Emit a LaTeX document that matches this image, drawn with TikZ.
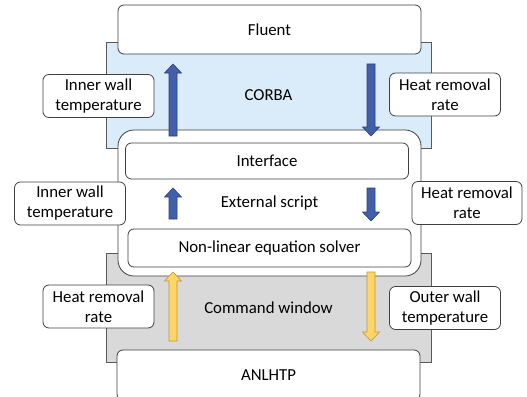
\documentclass[tikz,border=0pt]{standalone}
\usepackage{fontspec}
\setmainfont{Carlito}
\usetikzlibrary{calc}

\definecolor{corbablue}{RGB}{218,235,249}
\definecolor{cmdgray}{RGB}{217,217,217}
\definecolor{arrowblue}{RGB}{65,95,170}
\definecolor{arrowblueline}{RGB}{45,65,125}
\definecolor{arrowyellow}{RGB}{255,214,102}
\definecolor{arrowyellowline}{RGB}{190,150,60}

\tikzset{
  region/.style={draw=black!65, line width=0.8pt, inner sep=0pt},
  box/.style={draw=black!75, fill=white, rounded corners=6pt, line width=0.8pt, inner sep=0pt},
  tag/.style={box, minimum width=111pt, minimum height=43pt, align=center},
  blockblue/.style={fill=arrowblue, draw=arrowblueline, line width=0.6pt},
  blockyellow/.style={fill=arrowyellow, draw=arrowyellowline, line width=0.6pt}
}

% block arrow: style, tail, tip
\newcommand{\blockarrow}[3]{%
  \path ($(#3)!9pt!(#2)$) coordinate (head);
  \draw[#1] ($(#2)!4pt!90:(#3)$) -- ($(head)!4pt!90:(#3)$) -- ($(head)!8.5pt!90:(#3)$)
    -- (#3) -- ($(head)!8.5pt!-90:(#3)$) -- ($(head)!4pt!-90:(#3)$) -- ($(#2)!4pt!-90:(#3)$) -- cycle;}

\begin{document}
\begin{tikzpicture}[x=1pt, y=-1pt, font=\fontsize{16.8}{20}\selectfont]
  \useasboundingbox (0,0) rectangle (527,396);
  \clip (0,0) rectangle (527,396);
  % Regions
  \node[region, fill=corbablue, minimum width=325pt, minimum height=106pt] (corba) at (268.5,95) {CORBA};
  \node[region, fill=cmdgray, minimum width=325pt, minimum height=109pt] (cmd) at (268.5,307.5) {Command window};
  % Programs
  \node[box, minimum width=303pt, minimum height=49pt] (fluent) at (269.5,29.5) {Fluent};
  \node[box, rounded corners=16pt, minimum width=303pt, minimum height=146pt] (ext) at (269.5,203) {External script};
  \node[box, minimum width=283pt, minimum height=36pt] (iface) at (267,161) {Interface};
  \node[box, minimum width=283pt, minimum height=38pt] (solver) at (269.5,248) {Non-linear equation solver};
  \node[box, minimum width=303pt, minimum height=50pt] (anl) at (268.5,375) {ANLHTP};
  % Exchanged values
  \node[tag] (tl) at (98.5,96) {Inner wall\\temperature};
  \node[tag] (tr) at (445,94.5) {Heat removal\\rate};
  \node[tag] (ml) at (70,203.5) {Inner wall\\temperature};
  \node[tag, minimum width=110pt] (mr) at (467,203) {Heat removal\\rate};
  \node[tag] (bl) at (98.5,306.5) {Heat removal\\rate};
  \node[tag] (br) at (445,308) {Outer wall\\temperature};
  % Arrow ends
  \coordinate (a1) at (173,136);  \coordinate (b1) at (173,64);
  \coordinate (a2) at (371,64);   \coordinate (b2) at (371,136);
  \coordinate (a3) at (173,219);  \coordinate (b3) at (173,188);
  \coordinate (a4) at (371,188);  \coordinate (b4) at (371,221);
  \coordinate (a5) at (173,341);  \coordinate (b5) at (173,272);
  \coordinate (a6) at (371,272);  \coordinate (b6) at (371,341);
  % Arrows
  \blockarrow{blockblue}{a1}{b1}
  \blockarrow{blockblue}{a2}{b2}
  \blockarrow{blockblue}{a3}{b3}
  \blockarrow{blockblue}{a4}{b4}
  \blockarrow{blockyellow}{a5}{b5}
  \blockarrow{blockyellow}{a6}{b6}
\end{tikzpicture}
\end{document}
